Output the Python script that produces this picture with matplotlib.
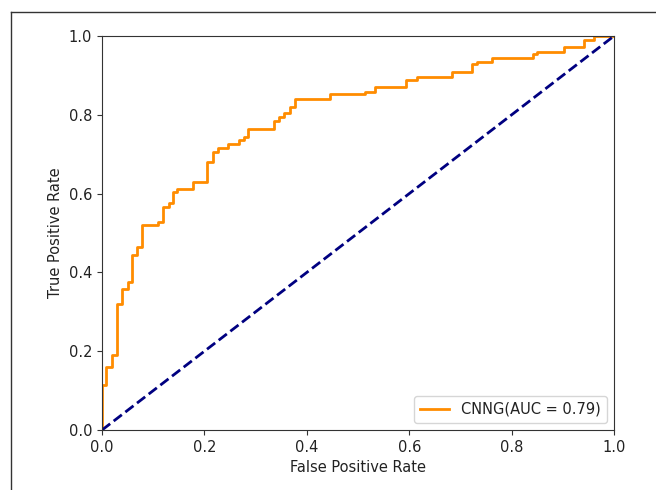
import matplotlib
matplotlib.use('Agg')
import matplotlib.pyplot as plt
from matplotlib.lines import Line2D

# ROC corner points
fpr = [0.0, 0.0, 0.008, 0.008, 0.019, 0.019, 0.029, 0.029, 0.040, 0.040,
       0.050, 0.050, 0.059, 0.059, 0.068, 0.068, 0.079, 0.079, 0.110, 0.110,
       0.119, 0.119, 0.130, 0.130, 0.139, 0.139, 0.147, 0.147, 0.177, 0.177,
       0.206, 0.206, 0.217, 0.217, 0.227, 0.227, 0.247, 0.247, 0.268, 0.268,
       0.277, 0.277, 0.286, 0.286, 0.336, 0.336, 0.346, 0.346, 0.356, 0.356,
       0.367, 0.367, 0.377, 0.377, 0.445, 0.445, 0.514, 0.514, 0.533, 0.533,
       0.594, 0.594, 0.615, 0.615, 0.683, 0.683, 0.722, 0.722, 0.732, 0.732,
       0.761, 0.761, 0.842, 0.842, 0.849, 0.849, 0.902, 0.902, 0.941, 0.941,
       0.960, 0.960, 1.0]
tpr = [0.0, 0.114, 0.114, 0.160, 0.160, 0.190, 0.190, 0.320, 0.320, 0.358,
       0.358, 0.376, 0.376, 0.444, 0.444, 0.464, 0.464, 0.520, 0.520, 0.529,
       0.529, 0.567, 0.567, 0.575, 0.575, 0.603, 0.603, 0.612, 0.612, 0.630,
       0.630, 0.679, 0.679, 0.706, 0.706, 0.717, 0.717, 0.726, 0.726, 0.736,
       0.736, 0.744, 0.744, 0.764, 0.764, 0.785, 0.785, 0.794, 0.794, 0.804,
       0.804, 0.821, 0.821, 0.840, 0.840, 0.852, 0.852, 0.859, 0.859, 0.870,
       0.870, 0.888, 0.888, 0.897, 0.897, 0.908, 0.908, 0.929, 0.929, 0.935,
       0.935, 0.943, 0.943, 0.954, 0.954, 0.960, 0.960, 0.972, 0.972, 0.990,
       0.990, 1.0, 1.0]
roc_auc = 0.79
model_name = 'CNNG'

plt.rcParams['font.size'] = 10.5
plt.rcParams['text.color'] = '#222222'
plt.rcParams['axes.labelcolor'] = '#222222'
plt.rcParams['xtick.color'] = '#333333'
plt.rcParams['ytick.color'] = '#333333'
plt.rcParams['xtick.labelcolor'] = '#222222'
plt.rcParams['ytick.labelcolor'] = '#222222'
plt.rcParams['axes.edgecolor'] = '#333333'

fig = plt.figure(figsize=(6.56, 4.9), dpi=100)
ax = fig.add_axes([0.1555, 0.1224, 0.7805, 0.8041])

ax.plot(fpr, tpr, color='darkorange', lw=2, label=f'{model_name}(AUC = {roc_auc:.2f})')
ax.plot([0, 1], [0, 1], color='navy', lw=2, linestyle='--')
ax.set_xlim([0.0, 1.0])
ax.set_ylim([0.0, 1.0])
ax.set_xlabel('False Positive Rate')
ax.set_ylabel('True Positive Rate')
ax.legend(loc='lower right')

# frame of the screenshot (top and left edges)
fig.add_artist(Line2D([11 / 656, 1.0], [1 - 12 / 490, 1 - 12 / 490], color='#333333', lw=1))
fig.add_artist(Line2D([11 / 656, 11 / 656], [0.0, 1 - 12 / 490], color='#333333', lw=1))

plt.savefig('out.png', dpi=100)
